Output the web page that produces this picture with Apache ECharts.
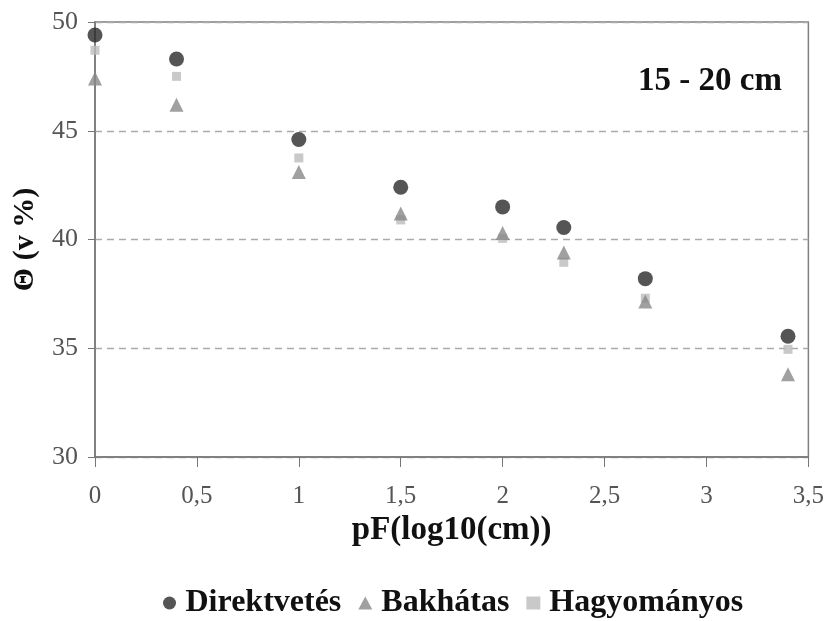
<!DOCTYPE html>
<html>
<head>
<meta charset="utf-8">
<script src="https://cdn.jsdelivr.net/npm/echarts@6/dist/echarts.min.js"></script>
<style>html,body{margin:0;padding:0;background:#fff}#c{width:827px;height:621px}</style>
</head>
<body>
<div id="c"></div>
<script>
var pF = [0, 0.4, 1, 1.5, 2, 2.3, 2.7, 3.4];
var direktvetes = [49.4, 48.3, 44.6, 42.4, 41.5, 40.55, 38.2, 35.55];
var bakhatas = [47.4, 46.2, 43.1, 41.2, 40.3, 39.4, 37.15, 33.8];
var hagyomanyos = [48.7, 47.5, 43.75, 40.9, 40.05, 38.95, 37.3, 34.95];
var seriesNames = ['Direktvetés', 'Bakhátas', 'Hagyományos'];
var titleText = '15 - 20 cm';
var xTitle = 'pF(log10(cm))';
var yTitle = 'Θ (v %)';

function pairs(ys){ return pF.map(function(x,i){ return [x, ys[i]]; }); }
var serif = '"Liberation Serif", "DejaVu Serif", serif';
var chart = echarts.init(document.getElementById('c'));
chart.setOption({
  backgroundColor: '#fff',
  animation: false,
  title: {
    text: titleText, right: 40, top: 60,
    textStyle: {fontFamily: serif, fontWeight: 'bold', fontSize: 33, color: '#111'}
  },
  legend: {
    top: 582, left: 158, itemGap: 17, itemWidth: 14, itemHeight: 13,
    textStyle: {fontFamily: serif, fontWeight: 'bold', fontSize: 32, color: '#111', padding: [0, 0, 0, 4]},
    data: [
      {name: seriesNames[0], icon: 'circle'},
      {name: seriesNames[1], icon: 'triangle'},
      {name: seriesNames[2], icon: 'rect'}
    ]
  },
  grid: {left: 95, right: 17, top: 22, bottom: 164, show: true, borderColor: '#808080', borderWidth: 1.5, containLabel: false},
  xAxis: {
    type: 'value', min: 0, max: 3.5, interval: 0.5,
    name: xTitle, nameLocation: 'middle', nameGap: 56,
    nameTextStyle: {fontFamily: serif, fontWeight: 'bold', fontSize: 33, color: '#111'},
    axisLine: {show: true, lineStyle: {color: '#777', width: 1.5}},
    axisTick: {show: true, length: 10, lineStyle: {color: '#777'}},
    splitLine: {show: false},
    axisLabel: {fontFamily: serif, fontSize: 25, color: '#555', margin: 27,
      formatter: function(v){ return String(v).replace('.', ','); }}
  },
  yAxis: {
    type: 'value', min: 30, max: 50, interval: 5,
    name: yTitle, nameLocation: 'middle', nameGap: 55, nameRotate: 90,
    nameTextStyle: {fontFamily: serif, fontWeight: 'bold', fontSize: 30, color: '#111'},
    axisLine: {show: true, lineStyle: {color: '#777', width: 1.5}},
    axisTick: {show: true, length: 7, lineStyle: {color: '#777'}},
    splitLine: {show: true, lineStyle: {color: '#aaa', type: [7, 5], width: 1.3}},
    axisLabel: {fontFamily: serif, fontSize: 26, color: '#555', margin: 17}
  },
  series: [
    {name: seriesNames[0], type: 'scatter', symbol: 'circle', symbolSize: 15, z: 3,
     itemStyle: {color: '#2a2a2a'}, data: pairs(direktvetes)},
    {name: seriesNames[1], type: 'scatter', symbol: 'triangle', symbolSize: 14, z: 2,
     itemStyle: {color: '#888'}, data: pairs(bakhatas)},
    {name: seriesNames[2], type: 'scatter', symbol: 'rect', symbolSize: 9, z: 1,
     itemStyle: {color: '#bbb'}, data: pairs(hagyomanyos)}
  ]
});
</script>
</body>
</html>
